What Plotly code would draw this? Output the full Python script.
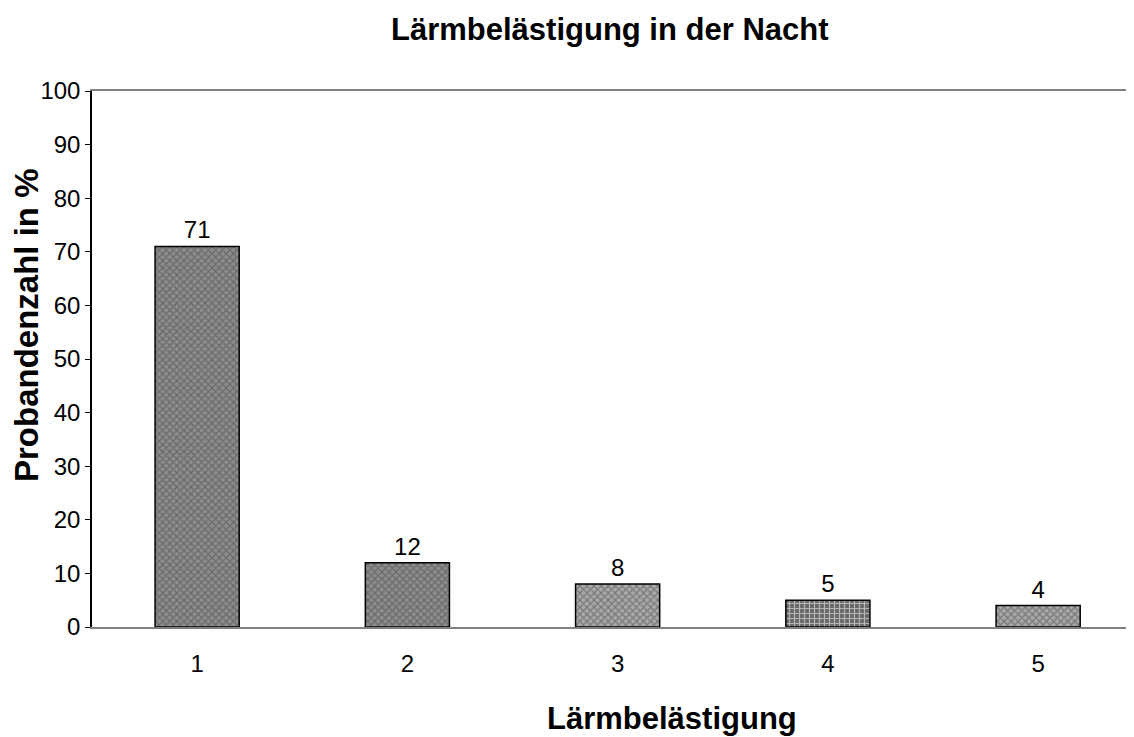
import plotly.graph_objects as go

categories = [1, 2, 3, 4, 5]
values = [71, 12, 8, 5, 4]
tick_vals = list(range(0, 101, 10))
patterns = ["x", "x", "x", "+", "x"]
bgcolors = ["#8c8c8c", "#8c8c8c", "#a8a8a8", "#6a6a6a", "#a8a8a8"]

W, H = 1134, 737
l, r, t, b = 84, 0, 83, 118

fig = go.Figure()
fig.add_trace(go.Bar(
    x=categories, y=values, width=0.4,
    text=[str(v) for v in values], textposition="outside",
    textfont=dict(family="Liberation Sans, Arial", size=24, color="black"),
    cliponaxis=False,
    marker=dict(
        color=bgcolors,
        line=dict(color="black", width=1.5),
        pattern=dict(shape=patterns, fgcolor="black", bgcolor=bgcolors, size=5, solidity=0.4),
    ),
))

pw, ph = W - l - r, H - t - b


def px(x):
    return (x - l) / pw


def py(y):
    return (H - y - b) / ph


fig.update_layout(
    width=W, height=H,
    margin=dict(l=l, r=r, t=t, b=b),
    paper_bgcolor="white", plot_bgcolor="white",
    showlegend=False,
    font=dict(family="Liberation Sans, Arial", color="black"),
    xaxis=dict(
        range=[0.5, 5.494], tickvals=categories, ticktext=[str(c) for c in categories],
        showline=True, mirror=True, linecolor="#808080", linewidth=1.5,
        ticks="outside", ticklen=14, tickcolor="rgba(0,0,0,0)",
        tickfont=dict(size=24), showgrid=False, zeroline=False,
    ),
    yaxis=dict(
        range=[0, 100], tickvals=tick_vals,
        showline=True, linecolor="black", linewidth=1.5,
        ticks="outside", ticklen=5, tickcolor="black",
        tickfont=dict(size=24), showgrid=False, zeroline=False,
    ),
    annotations=[
        dict(text="<b>Lärmbelästigung in der Nacht</b>", x=px(602), y=py(22),
             xref="paper", yref="paper", xanchor="center", yanchor="middle",
             showarrow=False, font=dict(size=31)),
        dict(text="<b>Lärmbelästigung</b>", x=px(664), y=py(710),
             xref="paper", yref="paper", xanchor="center", yanchor="middle",
             showarrow=False, font=dict(size=31)),
        dict(text="<b>Probandenzahl in %</b>", x=px(18), y=py(317),
             xref="paper", yref="paper", xanchor="center", yanchor="middle",
             showarrow=False, textangle=-90, font=dict(size=33)),
    ],
)

fig.write_html("out.html")
